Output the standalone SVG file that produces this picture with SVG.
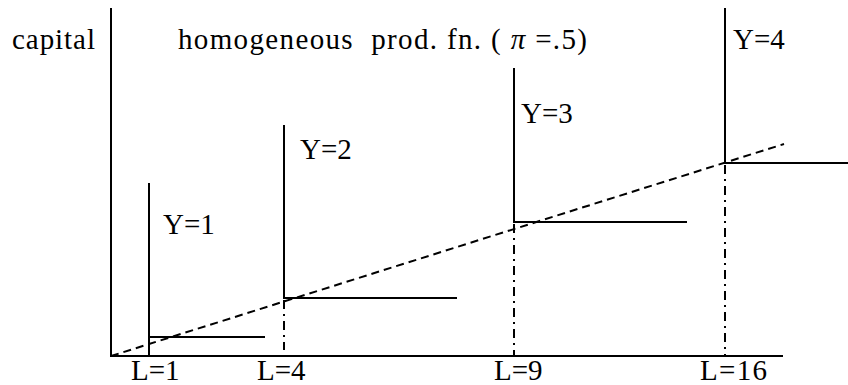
<svg xmlns="http://www.w3.org/2000/svg" width="848" height="385" viewBox="0 0 848 385">
<style>
text{font-family:"Liberation Serif","Liberation Sans",serif;font-size:29px;fill:#000}
.s{stroke:#000;stroke-width:2;fill:none}
.dd{stroke:#000;stroke-width:2;fill:none;stroke-dasharray:9 5 2 5}
.d{stroke:#000;stroke-width:2;fill:none;stroke-dasharray:8 5}
</style>
<rect width="848" height="385" fill="#fff"/>
<g id="axes">
<path class="s" d="M111 8V356H783"/>
<text x="12" y="49" textLength="83" lengthAdjust="spacing">capital</text>
<text x="178" y="49" xml:space="preserve" textLength="409" lengthAdjust="spacing">homogeneous  prod. fn. ( <tspan font-style="italic">π</tspan> =.5)</text>
</g>
<g id="connectors">
<path class="d" d="M111 356L784 144"/>
<path class="dd" d="M284 300V350"/>
<path class="dd" d="M514 224V356"/>
<path class="dd" d="M725 165V356"/>
</g>
<g id="iso1">
<path class="s" d="M149 183V356M149 337H265"/>
<text x="163" y="234">Y=1</text>
<text x="131" y="380">L=1</text>
</g>
<g id="iso2">
<path class="s" d="M284 125V298H457"/>
<text x="300" y="159">Y=2</text>
<text x="257" y="380">L=4</text>
</g>
<g id="iso3">
<path class="s" d="M514 68V222H687"/>
<text x="521" y="123">Y=3</text>
<text x="494" y="380">L=9</text>
</g>
<g id="iso4">
<path class="s" d="M725 8V163H848"/>
<text x="733" y="49">Y=4</text>
<text x="700" y="380" textLength="67" lengthAdjust="spacing">L=16</text>
</g>
</svg>
